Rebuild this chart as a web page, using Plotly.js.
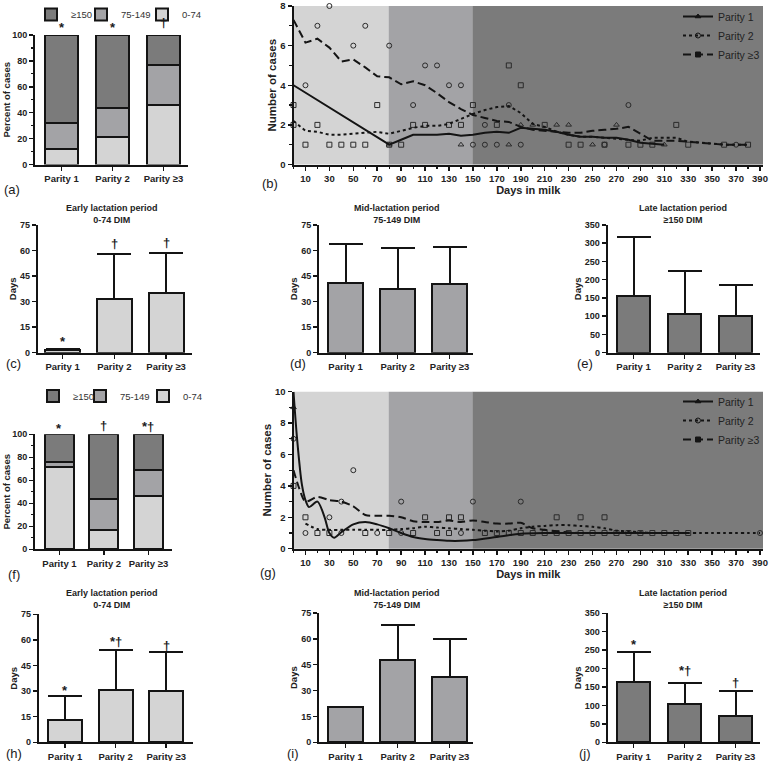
<!DOCTYPE html>
<html><head><meta charset="utf-8">
<script src="https://cdn.plot.ly/plotly-3.0.1.min.js"></script>
<style>html,body{margin:0;padding:0;background:#fff}#chart{width:777px;height:761px}</style>
</head><body><div id="chart"></div>
<script>
// ---------- DATA ----------
const parities = ['Parity 1', 'Parity 2', 'Parity ≥3'];
const stageNames = ['0-74', '75-149', '≥150'];

// (a) percent of cases by lactation stage
const aEarly = [12, 21, 46];
const aMid = [20, 23, 31];
const aLate = [68, 56, 23];
const aMarks = ['*', '*', '†'];

// (f) percent of cases by lactation stage
const fEarly = [71.5, 17, 46];
const fMid = [4, 26.5, 23];
const fLate = [24.5, 56.5, 31];
const fMarks = ['*', '†', '*†'];

// (c)(d)(e) days, mean and SD
const cMean = [1.3, 31.7, 35.2];
const cSD = [0.7, 26.3, 23.5];
const cMarks = ['*', '†', '†'];
const dMean = [41.1, 37.2, 40.3];
const dSD = [22.7, 24.5, 21.6];
const eMean = [155, 107, 101.5];
const eSD = [162, 118, 85];

// (h)(i)(j) days, mean and SD
const hMean = [13.1, 30.7, 30.3];
const hSD = [13.9, 23.4, 22.6];
const hMarks = ['*', '*†', '†'];
const iMean = [20.2, 47.5, 37.8];
const iSD = [0, 20.7, 22.3];
const jMean = [164.6, 103, 71.4];
const jSD = [81.4, 59, 67.6];
const jMarks = ['*', '*†', '†'];

// shaded lactation bands (days in milk)
const bandEdges = [0, 79.5, 149.5, 392.5];

// (b) points
const bTriX = [80, 140, 180, 190, 200, 220, 230, 250, 270, 310];
const bTriY = [1, 1, 1, 2, 2, 2, 2, 1, 2, 1];
const bCircX = [10, 20, 30, 50, 60, 80, 100, 110, 120, 130, 140, 150, 160, 160, 170, 180, 190, 260, 280, 370];
const bCircY = [4, 7, 8, 6, 7, 6, 3, 5, 5, 4, 4, 1, 1, 2, 1, 3, 1, 1, 3, 1];
const bSqX = [0, 0, 10, 20, 30, 40, 50, 60, 70, 80, 90, 100, 110, 130, 140, 150, 170, 180, 190, 210, 230, 240, 260, 280, 290, 300, 320, 330, 360, 380];
const bSqY = [3, 2, 1, 2, 1, 1, 1, 1, 3, 1, 1, 2, 2, 2, 2, 3, 2, 5, 4, 2, 1, 1, 1, 1, 1, 1, 2, 1, 1, 1];
// (b) smoothed lines
const bP1X = [0, 80, 90, 100, 110, 120, 130, 140, 150, 160, 170, 180, 190, 200, 210, 220, 230, 240, 250, 260, 270, 280, 290, 300, 310];
const bP1Y = [4.0, 1.0, 1.25, 1.5, 1.5, 1.5, 1.55, 1.45, 1.5, 1.6, 1.65, 1.6, 1.85, 1.8, 1.75, 1.65, 1.5, 1.4, 1.4, 1.35, 1.35, 1.25, 1.1, 1.05, 1.0];
const bLineX = [0, 10, 20, 30, 40, 50, 60, 70, 80, 90, 100, 110, 120, 130, 140, 150, 160, 170, 180, 190, 200, 210, 220, 230, 240, 250, 260, 270, 280, 290, 300, 310, 320, 330, 340, 350, 360, 370, 380];
const bP2Y = [2.2, 1.7, 1.65, 1.5, 1.5, 1.55, 1.6, 1.65, 1.55, 1.7, 1.85, 1.95, 1.95, 2.05, 2.3, 2.55, 2.75, 2.9, 2.95, 2.6, 2.05, 1.9, 1.65, 1.5, 1.4, 1.4, 1.35, 1.3, 1.25, 1.2, 1.35, 1.35, 1.35, 1.15, 1.1, 1.05, 1.0, 1.0, 1.0];
const bP3Y = [7.3, 6.15, 6.35, 5.9, 5.2, 5.3, 4.9, 4.45, 4.4, 4.05, 4.2, 4.0, 3.6, 3.15, 2.8, 2.5, 2.35, 2.2, 2.15, 1.9, 1.75, 1.7, 1.65, 1.6, 1.6, 1.7, 1.75, 1.8, 1.9, 1.55, 1.2, 1.2, 1.2, 1.15, 1.1, 1.05, 1.0, 1.0, 1.0];

// (g) points
const gTriX = [0];
const gTriY = [9];
const gCircX = [0, 10, 30, 40, 40, 50, 70, 90, 90, 140, 150, 190, 390];
const gCircY = [7, 1, 2, 3, 1, 5, 1, 3, 1, 1, 3, 3, 1];
const gSqX = [0, 10, 20, 30, 60, 80, 100, 110, 120, 130, 130, 140, 160, 170, 180, 190, 200, 210, 220, 220, 230, 240, 240, 250, 260, 260, 270, 280, 290, 300, 310, 320, 330];
const gSqY = [4, 2, 1, 1, 1, 1, 1, 2, 1, 1, 2, 2, 1, 1, 1, 1, 1, 1, 1, 2, 1, 1, 2, 1, 1, 2, 1, 1, 1, 1, 1, 1, 1];
// (g) smoothed lines
const gP1X = [0, 3, 7, 10, 13, 20, 26, 30, 34, 40, 50, 60, 70, 80, 90, 100, 110, 120, 130, 140, 150, 170, 190, 210, 230, 250, 270, 290, 310, 330];
const gP1Y = [10, 7, 4.1, 3.1, 2.65, 3.0, 2.0, 1.0, 0.7, 1.05, 1.55, 1.7, 1.55, 1.3, 1.0, 0.75, 0.62, 0.55, 0.5, 0.5, 0.55, 0.75, 0.95, 1.0, 1.0, 1.0, 1.0, 1.0, 1.0, 1.0];
const gP2X = [10, 20, 30, 40, 50, 60, 70, 80, 90, 100, 110, 120, 130, 140, 150, 160, 170, 180, 190, 200, 210, 220, 230, 240, 250, 260, 270, 280, 290, 300, 310, 320, 330, 340, 350, 360, 370, 380, 390];
const gP2Y = [1.6, 1.25, 1.2, 1.2, 1.2, 1.2, 1.2, 1.2, 1.25, 1.3, 1.4, 1.35, 1.3, 1.25, 1.2, 1.15, 1.1, 1.15, 1.3, 1.4, 1.45, 1.5, 1.5, 1.45, 1.4, 1.3, 1.15, 1.1, 1.05, 1.0, 1.0, 1.0, 1.0, 1.0, 1.0, 1.0, 1.0, 1.0, 1.0];
const gP3X = [0, 5, 10, 20, 30, 40, 50, 60, 70, 80, 90, 100, 110, 120, 130, 140, 150, 160, 170, 180, 190, 200, 210, 220, 230, 240, 250, 260, 270, 280, 290, 300, 310, 320, 330];
const gP3Y = [5.0, 3.8, 3.0, 3.3, 3.1, 3.0, 2.7, 2.15, 2.1, 2.1, 2.0, 1.75, 1.7, 1.7, 1.8, 1.7, 1.8, 1.7, 1.6, 1.6, 1.65, 1.3, 1.2, 1.1, 1.05, 1.0, 1.0, 1.0, 1.0, 1.0, 1.0, 1.0, 1.0, 1.0, 1.0];

// ---------- STYLE ----------
const LIGHT = '#d4d4d4', MID = '#a3a3a6', DARK = '#7b7b7b', INK = '#141414';
const FONT = '"Liberation Sans", Arial, sans-serif';
const W = 777, H = 761;
const px = v => v / W;
const py = v => 1 - v / H;

function axBase(extra) {
  return Object.assign({
    showline: true, linewidth: 2, linecolor: INK,
    ticks: 'outside', ticklen: 4, tickwidth: 1.5, tickcolor: INK,
    showgrid: false, zeroline: false, fixedrange: true,
    tickfont: {family: FONT, size: 9.5, color: '#222', weight: 'bold'}
  }, extra);
}
function catX(n, x0, x1, range) {
  return axBase({domain: [px(x0), px(x1)], range: range, type: 'category', anchor: 'y' + n});
}
function valY(n, top, bottom, range, dtick, title, minor, standoff) {
  const o = axBase({domain: [py(bottom), py(top)], range: range, dtick: dtick, tick0: 0, anchor: 'x' + n,
    tickfont: {family: FONT, size: 9, color: '#222', weight: 'bold'},
    title: {text: title, font: {family: FONT, size: 9.5, color: '#222', weight: 'bold'}, standoff: standoff}});
  if (minor) o.minor = {dtick: minor, ticks: 'outside', ticklen: 2.5, tickwidth: 1.2, tickcolor: INK, showgrid: false};
  return o;
}

const traces = [];
const ax = n => (n === 1 ? '' : String(n));

function stacked(n, early, mid, late, legendIds) {
  const vals = [early, mid, late];
  const cols = [LIGHT, MID, DARK];
  for (let k = 0; k < 3; k++) {
    traces.push({
      type: 'bar', x: parities, y: vals[k], name: stageNames[k],
      xaxis: 'x' + ax(n), yaxis: 'y' + ax(n), width: 0.65,
      marker: {color: cols[k], line: {color: INK, width: 2}},
      legend: legendIds[k], showlegend: true, hoverinfo: 'skip'
    });
  }
}
function meanBars(n, mean, sd, color, width) {
  traces.push({
    type: 'bar', x: parities, y: mean, xaxis: 'x' + ax(n), yaxis: 'y' + ax(n),
    width: width, showlegend: false, hoverinfo: 'skip',
    marker: {color: color, line: {color: INK, width: 2}},
    error_y: {type: 'data', symmetric: false, array: sd, arrayminus: mean.map(() => 0),
      color: INK, thickness: 2, width: 17}
  });
}
function pts(n, xs, ys, symbol) {
  traces.push({type: 'scatter', mode: 'markers', x: xs, y: ys, xaxis: 'x' + n, yaxis: 'y' + n,
    showlegend: false, hoverinfo: 'skip', cliponaxis: false,
    marker: {symbol: symbol, size: 5, color: '#2a2a2a', line: {color: '#2a2a2a', width: 1}}});
}
function line(n, xs, ys, dash, shape) {
  traces.push({type: 'scatter', mode: 'lines', x: xs, y: ys, xaxis: 'x' + n, yaxis: 'y' + n,
    showlegend: false, hoverinfo: 'skip',
    line: {color: INK, width: 2, dash: dash, shape: shape, smoothing: 0.8}});
}
function legendEntries(n, legendId) {
  const names = ['Parity 1', 'Parity 2', 'Parity ≥3'];
  const dashes = ['solid', '3px,3px', '8px,4px'];
  const syms = ['triangle-up', 'circle-open', 'square'];
  for (let k = 0; k < 3; k++) {
    traces.push({type: 'scatter', mode: 'lines+markers', x: [null], y: [null], name: names[k],
      xaxis: 'x' + n, yaxis: 'y' + n, legend: legendId,
      line: {color: INK, width: 2, dash: dashes[k]},
      marker: {symbol: syms[k], size: 5, color: INK, line: {color: INK, width: 1}}});
  }
}

// (a)
stacked(1, aEarly, aMid, aLate, ['legend', 'legend5', 'legend9']);
// (b)
pts(2, bTriX, bTriY, 'triangle-up-open');
pts(2, bCircX, bCircY, 'circle-open');
pts(2, bSqX, bSqY, 'square-open');
line(2, bP1X, bP1Y, 'solid', 'linear');
line(2, bLineX, bP2Y, '3px,3px', 'linear');
line(2, bLineX, bP3Y, '8px,4px', 'linear');
legendEntries(2, 'legend2');
// (c)(d)(e)
meanBars(3, cMean, cSD, LIGHT, 0.68);
meanBars(4, dMean, dSD, MID, 0.67);
meanBars(5, eMean, eSD, DARK, 0.66);
// (f)
stacked(6, fEarly, fMid, fLate, ['legend8', 'legend7', 'legend3']);
// (g)
pts(7, gTriX, gTriY, 'triangle-up-open');
pts(7, gCircX, gCircY, 'circle-open');
pts(7, gSqX, gSqY, 'square-open');
line(7, gP1X, gP1Y, 'solid', 'spline');
line(7, gP2X, gP2Y, '3px,3px', 'spline');
line(7, gP3X, gP3Y, '8px,4px', 'spline');
legendEntries(7, 'legend4');
// (h)(i)(j)
meanBars(8, hMean, hSD, LIGHT, 0.67);
meanBars(9, iMean, iSD, MID, 0.67);
meanBars(10, jMean, jSD, DARK, 0.66);

// ---------- LAYOUT ----------
function xDays(n) {
  return axBase({domain: [px(293.5), px(763)], range: [0, 392.5], anchor: 'y' + n, tick0: 10, dtick: 20,
    minor: {dtick: 10, ticks: 'outside', ticklen: 2.5, tickwidth: 1.2, tickcolor: INK, showgrid: false},
    title: {text: 'Days in milk', font: {family: FONT, size: 11, color: '#222', weight: 'bold'}, standoff: 2}});
}
function yCases(n, top, bottom, max) {
  return axBase({domain: [py(bottom), py(top)], range: [0, max], anchor: 'x' + n, dtick: 2, tick0: 0,
    minor: {dtick: 1, ticks: 'outside', ticklen: 2.5, tickwidth: 1.2, tickcolor: INK, showgrid: false},
    title: {text: 'Number of cases', font: {family: FONT, size: 11.5, color: '#222', weight: 'bold'}, standoff: 1}});
}
// legends kept fully inside the paper so they never push the margins
function stageLegend(left, yPos, anchor) {
  return {orientation: 'v', x: px(left), y: py(yPos), xanchor: 'left', yanchor: anchor,
    bgcolor: 'rgba(0,0,0,0)', font: {family: FONT, size: 9.5, color: '#333'}, itemwidth: 30,
    borderwidth: 0};
}
function parityLegend(left, top) {
  return {x: px(left), y: py(top), xanchor: 'left', yanchor: 'top',
    bgcolor: 'rgba(0,0,0,0)', font: {family: FONT, size: 10.5, color: '#222'}, itemwidth: 30, borderwidth: 0};
}

const layout = {
  width: W, height: H, margin: {l: 0, r: 0, t: 0, b: 0},
  paper_bgcolor: '#fff', plot_bgcolor: 'rgba(0,0,0,0)',
  barmode: 'stack', showlegend: true,
  font: {family: FONT, color: '#222'},
  xaxis: catX(1, 35, 188, [-0.52, 2.48]),
  yaxis: valY(1, 35, 164.5, [0, 100], 20, 'Percent of cases', 10, 0),
  xaxis2: xDays(2),
  yaxis2: yCases(2, 6, 164.5, 8),
  xaxis3: catX(3, 37.7, 192, [-0.48, 2.5]),
  yaxis3: valY(3, 225, 352.7, [0, 75], 15, 'Days', null, 2),
  xaxis4: catX(4, 319, 473, [-0.51, 2.45]),
  yaxis4: valY(4, 225, 352.7, [0, 75], 15, 'Days', null, 2),
  xaxis5: catX(5, 607.7, 760, [-0.506, 2.48]),
  yaxis5: valY(5, 225, 352.7, [0, 350], 50, 'Days', null, 2),
  xaxis6: catX(6, 35, 172, [-0.55, 2.53]),
  yaxis6: valY(6, 434.3, 549.3, [0, 100], 20, 'Percent of cases', 10, 0),
  xaxis7: xDays(7),
  yaxis7: yCases(7, 391.7, 548.7, 10),
  xaxis8: catX(8, 38.7, 193, [-0.52, 2.53]),
  yaxis8: valY(8, 614.3, 742.3, [0, 75], 15, 'Days', null, 2),
  xaxis9: catX(9, 319, 473, [-0.51, 2.45]),
  yaxis9: valY(9, 613, 742.3, [0, 75], 15, 'Days', null, 2),
  xaxis10: catX(10, 607.7, 760, [-0.506, 2.48]),
  yaxis10: valY(10, 613.3, 742.3, [0, 350], 50, 'Days', null, 2),
  legend9: stageLegend(31, 0, 'top'),
  legend5: stageLegend(81, 0, 'top'),
  legend: stageLegend(142, 0, 'top'),
  legend3: stageLegend(33, 396, 'middle'),
  legend7: stageLegend(80, 396, 'middle'),
  legend8: stageLegend(143, 396, 'middle'),
  legend2: parityLegend(678, 2),
  legend4: parityLegend(678, 387),
  shapes: [],
  annotations: []
};

// shaded bands in (b) and (g)
const bandCols = [LIGHT, MID, DARK];
[2, 7].forEach(n => {
  for (let k = 0; k < 3; k++) {
    layout.shapes.push({type: 'rect', xref: 'x' + n, yref: 'y' + n + ' domain', x0: bandEdges[k], x1: bandEdges[k + 1],
      y0: 0, y1: 1, fillcolor: bandCols[k], line: {width: 0}, layer: 'below'});
  }
});

// panel letters
const letters = [['(a)', 12, 190], ['(b)', 270, 183], ['(c)', 13, 363], ['(d)', 298, 363], ['(e)', 585, 363],
  ['(f)', 14, 574], ['(g)', 268, 572], ['(h)', 14, 753], ['(i)', 293, 753], ['(j)', 585, 753]];
letters.forEach(([t, x, y]) => layout.annotations.push({text: t, xref: 'paper', yref: 'paper', x: px(x), y: py(y),
  xanchor: 'center', yanchor: 'middle', showarrow: false, font: {family: FONT, size: 13, color: '#1a1a1a'}}));

// panel titles
const titles = [['Early lactation period<br>0-74 DIM', 112, 214], ['Mid-lactation period<br>75-149 DIM', 397, 214],
  ['Late lactation period<br>≥150 DIM', 683, 214], ['Early lactation period<br>0-74 DIM', 112, 599],
  ['Mid-lactation period<br>75-149 DIM', 397, 599], ['Late lactation period<br>≥150 DIM', 683, 599]];
titles.forEach(([t, x, y]) => layout.annotations.push({text: t, xref: 'paper', yref: 'paper', x: px(x), y: py(y),
  xanchor: 'center', yanchor: 'middle', showarrow: false, font: {family: FONT, size: 9, color: '#222', weight: 'bold'}}));

// significance marks (y positions in px)
function marks(n, labels, ys) {
  labels.forEach((t, k) => {
    const shift = t === '*' ? 3 : 0;
    layout.annotations.push({text: t, xref: 'x' + ax(n), yref: 'paper', x: parities[k], y: py(ys[k] + shift),
      xanchor: 'center', yanchor: 'middle', showarrow: false, font: {family: FONT, size: 13, color: '#1a1a1a', weight: 'bold'}});
  });
}
marks(1, aMarks, [25, 25, 22]);
marks(3, cMarks, [338, 243, 242]);
marks(6, fMarks, [425, 425, 426]);
marks(8, hMarks, [687, 641, 645]);
marks(10, jMarks, [641, 670, 682]);

Plotly.newPlot('chart', traces, layout, {displayModeBar: false, staticPlot: true});
</script>
</body></html>
